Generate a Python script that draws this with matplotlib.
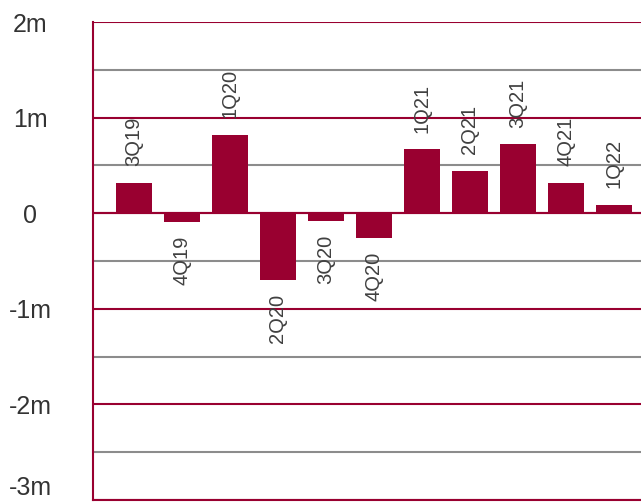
import numpy as np
import matplotlib.pyplot as plt
from matplotlib.ticker import MultipleLocator

# quarterly values in millions
quarters = ["3Q19", "4Q19", "1Q20", "2Q20", "3Q20", "4Q20",
            "1Q21", "2Q21", "3Q21", "4Q21", "1Q22"]
values = [0.32, -0.09, 0.82, -0.70, -0.08, -0.26,
          0.67, 0.44, 0.72, 0.32, 0.09]
yticks = [-3, -2, -1, 0, 1, 2]
ytick_labels = ["-3m", "-2m", "-1m", "0", "1m", "2m"]

red = "#990030"
grey = "#8c8c8c"
txt = "#404040"

plt.rcParams['font.family'] = ['Liberation Sans', 'DejaVu Sans']

fig = plt.figure(figsize=(6.41, 5.04), dpi=100)
ax = fig.add_axes([0.145, 0.0079, 0.855, 0.9484])

x = np.arange(len(quarters))
ax.bar(x, values, width=0.74, color=red, zorder=2)

ax.set_xlim(-0.854, 10.5625)
ax.set_ylim(-3, 2)
ax.set_xticks([])
ax.yaxis.set_major_locator(MultipleLocator(1))
ax.yaxis.set_minor_locator(MultipleLocator(0.5))
ax.set_yticks(yticks)
ax.set_yticklabels(ytick_labels)
ax.tick_params(axis='y', which='both', length=0, pad=45, labelsize=18, labelcolor="#333333")
for lab in ax.get_yticklabels():
    lab.set_horizontalalignment('center')
ax.get_yticklabels()[0].set_verticalalignment('bottom')

ax.set_axisbelow(True)
ax.grid(axis='y', which='major', color=red, linewidth=1.5)
ax.grid(axis='y', which='minor', color=grey, linewidth=1.5)
ax.axhline(0, color=red, linewidth=1.5, zorder=3)

for s in ['top', 'right']:
    ax.spines[s].set_visible(False)
ax.spines['left'].set_color(red)
ax.spines['left'].set_linewidth(1.5)
ax.spines['bottom'].set_color(red)
ax.spines['bottom'].set_linewidth(1.5)

for xi, v, q in zip(x, values, quarters):
    if v >= 0:
        ax.annotate(q, (xi, v), xytext=(0, 12), textcoords='offset points',
                    rotation=90, ha='center', va='bottom', fontsize=14.5, color=txt)
    else:
        ax.annotate(q, (xi, v), xytext=(0, -10), textcoords='offset points',
                    rotation=90, ha='center', va='top', fontsize=14.5, color=txt)

plt.savefig("out.png", dpi=100)
